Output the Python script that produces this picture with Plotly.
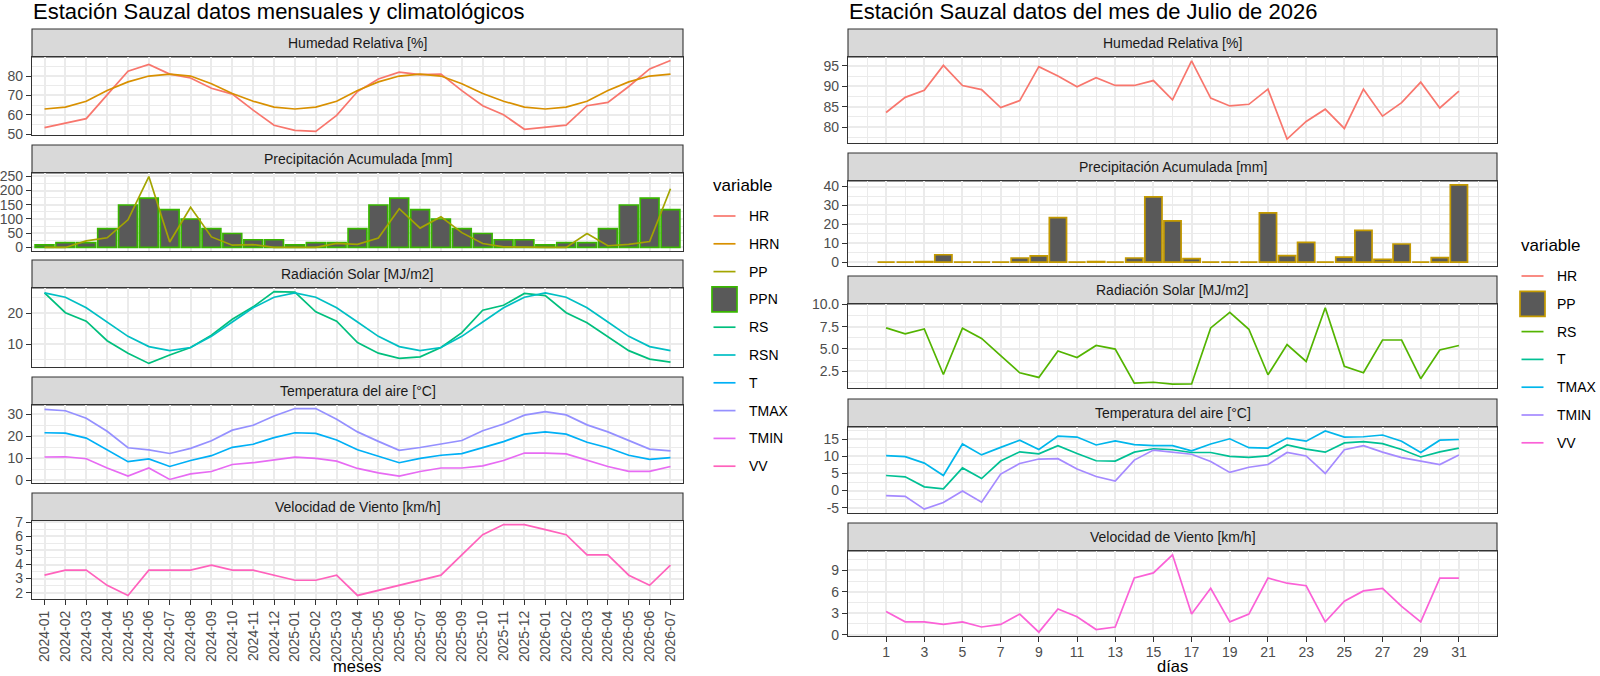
import plotly.graph_objects as go
import pandas as pd

W, H = 1600, 676
FONT = "Liberation Sans, Arial, sans-serif"

# ---------------- datos mensuales ----------------
meses = pd.period_range("2024-01", "2026-07", freq="M").strftime("%Y-%m").tolist()

hr = [53.4, 55.8, 58.0, 70.3, 82.5, 86.0, 81.0, 79.0, 73.7, 70.7, 62.4, 54.6,
      52.0, 51.4, 59.7, 72.0, 78.5, 82.0, 80.7, 81.0, 72.5, 64.7, 60.0, 52.5,
      53.5, 54.7, 64.7, 66.4, 74.6, 83.7, 88.0]
hrn = [63, 64, 67, 72.5, 77, 80, 81, 80, 76, 71, 67, 64,
       63, 64, 67, 72.5, 77, 80, 81, 80, 76, 71, 67, 64,
       63, 64, 67, 72.5, 77, 80, 81]
pp = [0, 0, 23, 34, 97, 249, 19, 141, 37, 8, 10, 0,
      0, 0, 14, 11, 33, 136, 68, 108, 52, 14, 2, 0,
      0, 0, 49, 6, 11, 21, 206]
ppn = [9, 17, 17, 66, 149, 173, 133, 100, 66, 49, 27, 27,
       9, 17, 17, 66, 149, 173, 133, 100, 66, 49, 27, 27,
       9, 17, 17, 66, 149, 173, 133]
rs = [26.6, 20.2, 17.5, 11.2, 7.2, 3.9, 6.6, 9.0, 13.0, 18.1, 22.1, 27.0,
      26.8, 20.5, 17.5, 10.6, 7.2, 5.5, 6.0, 9.0, 13.8, 21.0, 22.6, 26.4,
      25.7, 20.2, 17.0, 12.5, 8.0, 5.3, 4.3]
rsn = [26.6, 25.2, 21.8, 17.2, 12.6, 9.3, 8.0, 9.0, 12.6, 17.2, 21.8, 25.2,
       26.6, 25.2, 21.8, 17.2, 12.6, 9.3, 8.0, 9.0, 12.6, 17.2, 21.8, 25.2,
       26.6, 25.2, 21.8, 17.2, 12.6, 9.3, 8.0]
t = [21.5, 21.3, 19.1, 13.8, 8.4, 9.6, 6.2, 8.9, 11.1, 14.9, 16.3, 19.3,
     21.5, 21.2, 18.2, 13.8, 10.8, 7.9, 9.9, 11.3, 12.0, 14.8, 17.5, 20.9,
     21.9, 20.9, 17.2, 14.7, 11.3, 9.4, 10.2]
tmax = [32.1, 31.5, 28.1, 22.2, 14.7, 13.7, 12.1, 14.4, 17.9, 22.7, 24.9, 29.1,
        32.5, 32.5, 27.6, 21.9, 17.6, 13.5, 14.8, 16.3, 18.0, 22.4, 25.5, 29.5,
        31.1, 29.6, 25.1, 21.9, 17.9, 14.1, 13.3]
tmin = [10.5, 10.6, 9.7, 5.5, 1.8, 5.5, 0.3, 2.8, 3.9, 7.1, 7.9, 9.3,
        10.4, 9.9, 8.6, 5.3, 3.3, 1.8, 3.9, 5.5, 5.5, 6.5, 8.9, 12.3,
        12.3, 11.9, 8.9, 6.2, 4.0, 4.0, 6.2]
vv = [3.24, 3.6, 3.6, 2.52, 1.8, 3.6, 3.6, 3.6, 3.96, 3.6, 3.6, 3.24,
      2.88, 2.88, 3.24, 1.8, 2.16, 2.52, 2.88, 3.24, 4.68, 6.12, 6.84, 6.84,
      6.48, 6.12, 4.68, 4.68, 3.24, 2.52, 3.96]

# ---------------- datos diarios julio 2026 ----------------
dias = list(range(1, 32))

d_hr = [83.6, 87.3, 89.0, 95.1, 90.2, 89.2, 84.8, 86.5, 94.8, 92.5, 89.9, 92.1,
        90.2, 90.2, 91.4, 86.7, 96.2, 87.1, 85.2, 85.6, 89.3, 77.1, 81.4, 84.4,
        79.7, 89.3, 82.7, 86.0, 91.0, 84.7, 88.8]
d_pp = [0, 0, 0.3, 3.9, 0, 0, 0, 2.2, 3.3, 23.6, 0, 0.3,
        0, 2.2, 34.5, 21.8, 1.9, 0, 0, 0, 26.1, 3.4, 10.5, 0,
        2.6, 16.8, 1.5, 9.6, 0, 2.4, 40.9]
d_rs = [7.37, 6.71, 7.26, 2.13, 7.33, 6.19, 4.26, 2.32, 1.80, 4.77, 4.04, 5.39,
        4.99, 1.15, 1.26, 1.04, 1.07, 7.37, 9.12, 7.22, 2.10, 5.50, 3.60, 9.63,
        3.05, 2.32, 6.01, 6.01, 1.66, 4.88, 5.39]
d_t = [4.4, 4.0, 1.1, 0.5, 6.6, 3.5, 8.6, 11.3, 10.7, 13.1, 10.8, 8.7,
       8.6, 11.2, 12.2, 11.9, 11.1, 11.1, 10.0, 9.7, 10.1, 13.3, 12.1, 11.2,
       13.9, 14.3, 13.7, 12.0, 9.8, 11.3, 12.4]
d_tmax = [10.2, 9.9, 8.0, 4.4, 13.6, 10.4, 12.6, 14.7, 12.0, 15.9, 15.6, 13.3,
          14.5, 13.4, 13.1, 13.1, 11.6, 13.6, 15.1, 12.5, 12.4, 15.3, 14.4, 17.4,
          15.6, 15.7, 16.2, 14.4, 11.1, 14.7, 14.9]
d_tmin = [-1.5, -1.7, -5.4, -3.5, -0.1, -3.4, 4.8, 7.9, 9.2, 9.3, 6.3, 4.1,
          2.8, 8.9, 11.8, 11.1, 10.6, 8.5, 5.3, 6.8, 7.6, 11.1, 10.1, 5.0,
          11.9, 13.1, 11.2, 9.6, 8.7, 7.6, 10.4]
d_vv = [3.24, 1.8, 1.8, 1.44, 1.8, 1.08, 1.44, 2.88, 0.36, 3.6, 2.52, 0.72,
        1.08, 7.92, 8.64, 11.16, 2.88, 6.48, 1.8, 2.88, 7.92, 7.2, 6.84, 1.8,
        4.68, 6.12, 6.48, 3.96, 1.8, 7.92, 7.92]

facetas = ["Humedad Relativa [%]", "Precipitación Acumulada [mm]",
           "Radiación Solar [MJ/m2]", "Temperatura del aire [°C]",
           "Velocidad de Viento [km/h]"]

# ggplot hue palettes
col_izq = {"HR": "#F8766D", "HRN": "#D89000", "PP": "#A3A500", "PPN": "#39B600",
           "RS": "#00BF7D", "RSN": "#00BFC4", "T": "#00B0F6", "TMAX": "#9590FF",
           "TMIN": "#E76BF3", "VV": "#FF62BC"}
col_der = {"HR": "#F8766D", "PP": "#C49A00", "RS": "#53B400", "T": "#00C094",
           "TMAX": "#00B6EB", "TMIN": "#A58AFF", "VV": "#FB61D7"}

GRID = "#EBEBEB"
BORDER = "#333333"
TICKTXT = "#4D4D4D"
LW = 1.7
BW = 1.1

# pixel layout of the two facet columns
left_x = (32, 683)
right_x = (848, 1497)
left_rows = [(57, 135), (173, 251), (288, 367), (405, 483), (521, 599)]
right_rows = [(57, 143), (181, 266), (304, 388), (427, 513), (551, 636)]
STRIP = 28


def fx(p):
    return p / W


def fy(p):
    return 1 - p / H


def pad(vals, mult=0.05):
    lo, hi = min(vals), max(vals)
    d = (hi - lo) * mult
    return [lo - d, hi + d]


def minors(major):
    step = major[1] - major[0]
    return [major[0] - step / 2] + [m + step / 2 for m in major]


def ax(n):
    return "" if n == 1 else str(n)


fig = go.Figure()


def add_line(n, x, y, color):
    fig.add_trace(go.Scatter(x=x, y=y, mode="lines", line=dict(color=color, width=LW),
                             xaxis="x" + ax(n), yaxis="y" + ax(n),
                             showlegend=False, hoverinfo="skip"))


def add_bar(n, x, y, outline):
    fig.add_trace(go.Bar(x=x, y=y, width=0.9,
                         marker=dict(color="#595959", line=dict(color=outline, width=LW)),
                         xaxis="x" + ax(n), yaxis="y" + ax(n),
                         showlegend=False, hoverinfo="skip"))


# ---- left (monthly) traces
add_line(1, meses, hr, col_izq["HR"])
add_line(1, meses, hrn, col_izq["HRN"])
add_bar(2, meses, ppn, col_izq["PPN"])
add_line(2, meses, pp, col_izq["PP"])
add_line(3, meses, rs, col_izq["RS"])
add_line(3, meses, rsn, col_izq["RSN"])
add_line(4, meses, t, col_izq["T"])
add_line(4, meses, tmax, col_izq["TMAX"])
add_line(4, meses, tmin, col_izq["TMIN"])
add_line(5, meses, vv, col_izq["VV"])

# ---- right (daily) traces
add_line(6, dias, d_hr, col_der["HR"])
add_bar(7, dias, d_pp, col_der["PP"])
add_line(8, dias, d_rs, col_der["RS"])
add_line(9, dias, d_t, col_der["T"])
add_line(9, dias, d_tmax, col_der["TMAX"])
add_line(9, dias, d_tmin, col_der["TMIN"])
add_line(10, dias, d_vv, col_der["VV"])

y_left = [
    (pad(hr + hrn), [50, 60, 70, 80], None),
    (pad(pp + ppn + [0]), [0, 50, 100, 150, 200, 250], None),
    (pad(rs + rsn), [10, 20], None),
    (pad(t + tmax + tmin), [0, 10, 20, 30], None),
    (pad(vv), [2, 3, 4, 5, 6, 7], None),
]
y_right = [
    (pad(d_hr), [80, 85, 90, 95], None),
    (pad(d_pp + [0]), [0, 10, 20, 30, 40], None),
    (pad(d_rs), [2.5, 5.0, 7.5, 10.0], ["2.5", "5.0", "7.5", "10.0"]),
    (pad(d_t + d_tmax + d_tmin), [-5, 0, 5, 10, 15], None),
    (pad(d_vv), [0, 3, 6, 9], None),
]

tickfont = dict(family=FONT, size=14, color=TICKTXT)
layout = {}
shapes = []
annotations = []

x_day_range = pad([dias[0] - 0.45, dias[-1] + 0.45])
day_ticks = dias[::2]
day_minor = [d - 1 for d in dias[::2]] + [dias[-1] + 1]

for col, (xs, rows, yspec) in enumerate([(left_x, left_rows, y_left), (right_x, right_rows, y_right)]):
    for k, ((top, bot), (yr, yt, ytt)) in enumerate(zip(rows, yspec)):
        n = col * 5 + k + 1
        bottom = k == 4
        xa = dict(domain=[fx(xs[0]), fx(xs[1])], anchor="y" + ax(n),
                  showgrid=True, gridcolor=GRID, gridwidth=2, zeroline=False,
                  showline=True, mirror=True, linecolor=BORDER, linewidth=BW,
                  ticks="outside" if bottom else "", ticklen=5, tickwidth=BW,
                  tickcolor=BORDER, showticklabels=bottom, tickfont=tickfont)
        if col == 0:
            xa.update(type="category", range=[-0.6, len(meses) - 0.4], tickmode="array",
                      tickvals=meses, ticktext=meses, tickangle=-90)
        else:
            xa.update(type="linear", range=x_day_range, tickmode="array", tickvals=day_ticks,
                      ticklabelstandoff=-2,
                      minor=dict(tickvals=day_minor, showgrid=True, gridcolor=GRID,
                                 gridwidth=1, ticks=""))
        ya = dict(domain=[fy(bot), fy(top)], anchor="x" + ax(n), range=yr,
                  tickmode="array", tickvals=yt, ticktext=ytt if ytt else [str(v) for v in yt],
                  showgrid=True, gridcolor=GRID, gridwidth=2, zeroline=False,
                  showline=True, mirror=True, linecolor=BORDER, linewidth=BW,
                  ticks="outside", ticklen=5, tickwidth=BW, tickcolor=BORDER,
                  tickfont=tickfont,
                  minor=dict(tickvals=minors(yt), showgrid=True, gridcolor=GRID,
                             gridwidth=1, ticks=""))
        layout["xaxis" + ax(n)] = xa
        layout["yaxis" + ax(n)] = ya
        # strip
        shapes.append(dict(type="rect", xref="paper", yref="paper",
                           x0=fx(xs[0]), x1=fx(xs[1]), y0=fy(top), y1=fy(top - STRIP),
                           fillcolor="#D9D9D9", line=dict(color=BORDER, width=BW), layer="below"))
        annotations.append(dict(text=facetas[k], xref="paper", yref="paper",
                                x=fx((xs[0] + xs[1]) / 2), y=fy(top - STRIP / 2),
                                showarrow=False, xanchor="center", yanchor="middle",
                                font=dict(family=FONT, size=14, color="#1A1A1A")))

# titles and axis titles
for xs, text in [(left_x, "Estación Sauzal datos mensuales y climatológicos"),
                 (right_x, "Estación Sauzal datos del mes de Julio de 2026")]:
    annotations.append(dict(text=text, xref="paper", yref="paper", x=fx(xs[0] - 1), y=fy(12),
                            showarrow=False, xanchor="left", yanchor="middle",
                            font=dict(family=FONT, size=22, color="black")))
for xs, text in [(left_x, "meses"), (right_x, "días")]:
    annotations.append(dict(text=text, xref="paper", yref="paper", x=fx((xs[0] + xs[1]) / 2),
                            y=0, showarrow=False, xanchor="center", yanchor="bottom",
                            borderpad=0, font=dict(family=FONT, size=16.5, color="black")))


# legends (ggplot style, drawn manually)
def legend(colors, bar_key, x0, ytitle, y0, dy=27.8):
    annotations.append(dict(text="variable", xref="paper", yref="paper", x=fx(x0 - 1), y=fy(ytitle),
                            showarrow=False, xanchor="left", yanchor="middle",
                            font=dict(family=FONT, size=17, color="black")))
    for i, (name, c) in enumerate(colors.items()):
        yc = y0 + i * dy
        if name == bar_key:
            shapes.append(dict(type="rect", xref="paper", yref="paper",
                               x0=fx(x0), x1=fx(x0 + 25), y0=fy(yc + 12.5), y1=fy(yc - 12.5),
                               fillcolor="#595959", line=dict(color=c, width=LW)))
        else:
            shapes.append(dict(type="line", xref="paper", yref="paper",
                               x0=fx(x0 + 1.5), x1=fx(x0 + 23.5), y0=fy(yc), y1=fy(yc),
                               line=dict(color=c, width=LW)))
        annotations.append(dict(text=name, xref="paper", yref="paper", x=fx(x0 + 35), y=fy(yc),
                                showarrow=False, xanchor="left", yanchor="middle",
                                font=dict(family=FONT, size=14, color="black")))


legend(col_izq, "PPN", 712, 185, 216)
legend(col_der, "PP", 1520, 245, 276)

fig.update_layout(
    width=W, height=H, margin=dict(l=0, r=0, t=0, b=0),
    paper_bgcolor="white", plot_bgcolor="white", template="none",
    showlegend=False, shapes=shapes, annotations=annotations,
    font=dict(family=FONT), **layout,
)

fig.write_html("out.html", config={"displayModeBar": False},
               post_script="document.body.style.margin = '0px';")
